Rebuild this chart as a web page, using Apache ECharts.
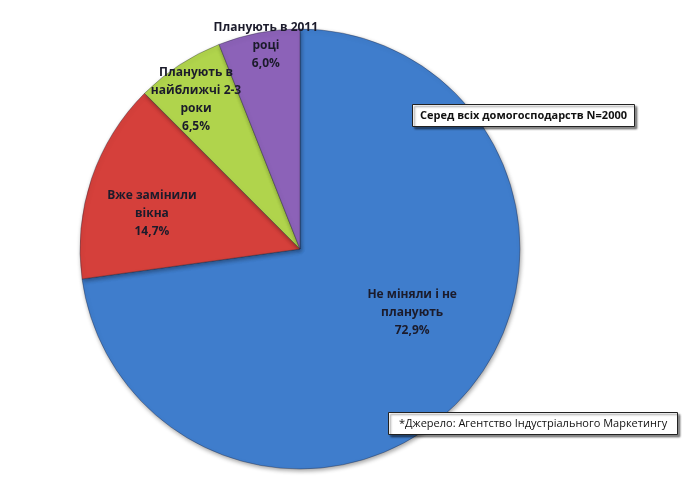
<!DOCTYPE html>
<html>
<head>
<meta charset="utf-8">
<script src="https://cdn.jsdelivr.net/npm/echarts@6/dist/echarts.min.js"></script>
<style>
  html, body { margin: 0; padding: 0; background: #fff; }
  #main { width: 700px; height: 502px; }
</style>
</head>
<body>
<div id="main"></div>
<script>
var chartDom = document.getElementById('main');
var pieChart = echarts.init(chartDom);
var option;

// дані з малюнка
const names = ['Не міняли і не\nпланують', 'Вже замінили\nвікна', 'Планують в\nнайближчі 2-3\nроки', 'Планують в 2011\nроці'];
const shares = [72.9, 14.7, 6.5, 6.0];
const colors = ['#3f7dcc', '#d5403b', '#b0d44c', '#8c62b8'];
// зсув підписів від позиції "inside"
const labelOffsets = [[27, -11], [-41, 1], [-42, -55], [-13, -92]];

const fmt = (v) => v.toFixed(1).replace('.', ',') + '%';

option = {
    backgroundColor: '#fff',
    title: [
        {
            text: 'Серед всіх домогосподарств N=2000',
            left: 412,
            top: 104,
            padding: [6, 8, 6, 8],
            backgroundColor: '#fff',
            borderColor: '#222',
            borderWidth: 1,
            shadowColor: 'rgba(0,0,0,0.45)',
            shadowBlur: 2,
            shadowOffsetX: 2,
            shadowOffsetY: 2,
            textStyle: { fontFamily: 'Open Sans', fontSize: 11, fontWeight: 'bold', color: '#111' }
        },
        {
            text: '*Джерело: Агентство Індустріального Маркетингу',
            left: 388,
            top: 412,
            padding: [6, 11, 6, 11],
            backgroundColor: '#fff',
            borderColor: '#222',
            borderWidth: 1,
            shadowColor: 'rgba(0,0,0,0.45)',
            shadowBlur: 2,
            shadowOffsetX: 2,
            shadowOffsetY: 2,
            textStyle: { fontFamily: 'Open Sans', fontSize: 11, fontWeight: 'normal', color: '#111' }
        }
    ],
    series: [
        {
            type: 'pie',
            center: [300, 249],
            radius: [0, 220],
            startAngle: 90,
            clockwise: true,
            animation: false,
            avoidLabelOverlap: false,
            labelLayout: { hideOverlap: false },
            itemStyle: {
                borderColor: 'rgba(30,30,50,0.35)',
                borderWidth: 1,
                shadowColor: 'rgba(0,0,0,0.35)',
                shadowBlur: 4,
                shadowOffsetX: 1,
                shadowOffsetY: 2
            },
            label: {
                position: 'inside',
                fontFamily: 'Open Sans',
                fontSize: 12,
                fontWeight: 'bold',
                lineHeight: 18,
                color: '#1b1b2b',
                formatter: (p) => p.name + '\n' + fmt(p.value)
            },
            labelLine: { show: false },
            data: names.map((n, i) => ({
                name: n,
                value: shares[i],
                itemStyle: { color: colors[i] },
                label: { offset: labelOffsets[i] }
            }))
        }
    ]
};

option && pieChart.setOption(option);

window.addEventListener('resize', function () {
    pieChart.resize();
});
</script>
</body>
</html>
